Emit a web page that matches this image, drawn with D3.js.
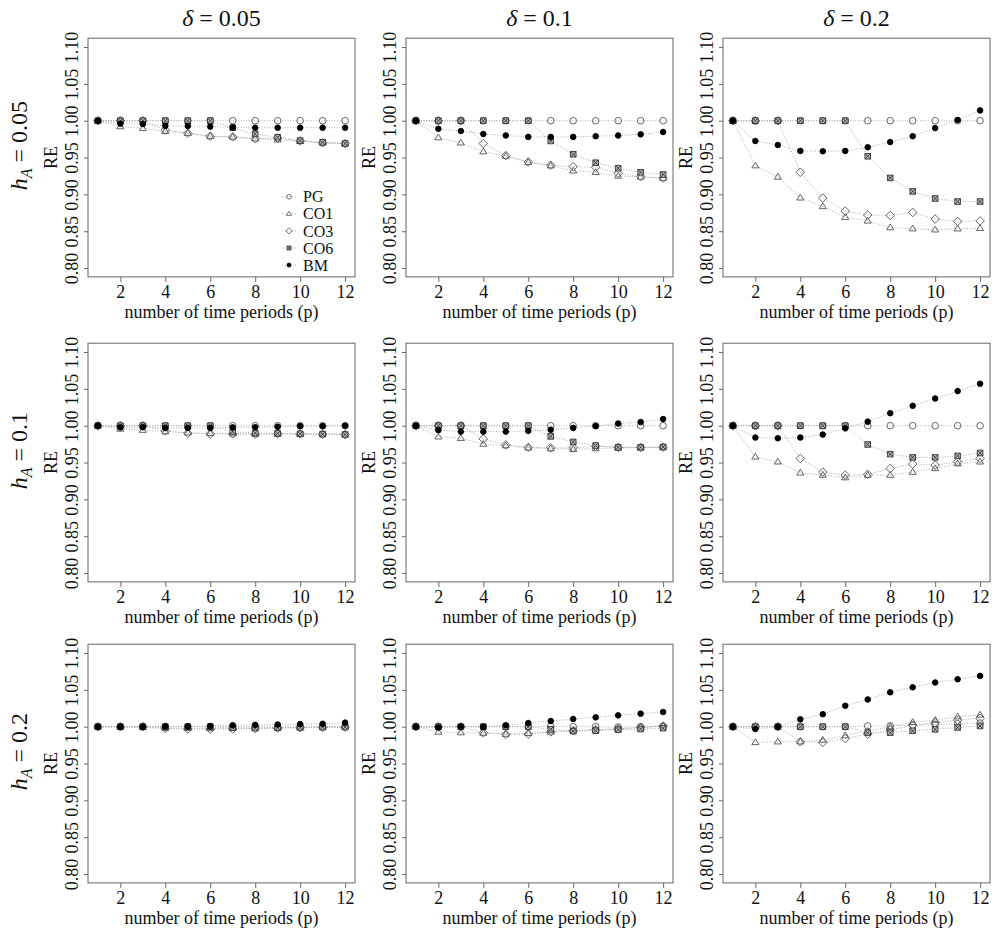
<!DOCTYPE html>
<html>
<head>
<meta charset="utf-8">
<script src="https://cdn.jsdelivr.net/npm/d3@7"></script>
<style>
    body { margin: 0; background: #fff; }
    svg { display: block; font-family: "Liberation Serif", "DejaVu Serif", serif; }
</style>
</head>
<body>
<div id="chart"></div>
<script>
const periods = d3.range(1, 13);
const seriesNames = ["PG", "CO1", "CO3", "CO6", "BM"];
const deltaLabels = ["0.05", "0.1", "0.2"];
const hLabels = ["0.05", "0.1", "0.2"];
const yTicks = [0.80, 0.85, 0.90, 0.95, 1.00, 1.05, 1.10];
const xTicks = [2, 4, 6, 8, 10, 12];

// each panel: rows are PG, CO1, CO3, CO6, BM (p = 1..12)
const h005_d005 = [
    [1, 1, 1, 1, 1, 1, 1, 1, 1, 1, 1, 1],
    [1, 0.992, 0.9896, 0.9856, 0.983, 0.979, 0.978, 0.9756, 0.974, 0.972, 0.970, 0.969],
    [1, 1, 1, 0.9874, 0.983, 0.979, 0.978, 0.9756, 0.9765, 0.9725, 0.970, 0.969],
    [1, 1, 1, 1, 1, 1, 0.9905, 0.982, 0.9775, 0.973, 0.9707, 0.969],
    [1, 0.996, 0.9955, 0.993, 0.9928, 0.992, 0.991, 0.9905, 0.9905, 0.9905, 0.9905, 0.9905]
];
const h005_d01 = [
    [1, 1, 1, 1, 1, 1, 1, 1, 1, 1, 1, 1],
    [1, 0.977, 0.970, 0.958, 0.952, 0.9436, 0.939, 0.932, 0.930, 0.925, 0.9237, 0.922],
    [1, 1, 1, 0.969, 0.9527, 0.944, 0.9395, 0.9377, 0.9368, 0.9287, 0.9242, 0.922],
    [1, 1, 1, 1, 1, 1, 0.9725, 0.9544, 0.943, 0.9355, 0.930, 0.927],
    [1, 0.989, 0.986, 0.982, 0.980, 0.978, 0.978, 0.978, 0.979, 0.980, 0.9815, 0.9847]
];
const h005_d02 = [
    [1, 1, 1, 1, 1, 1, 1, 1, 1, 1, 1, 1],
    [1, 0.939, 0.9236, 0.8953, 0.8836, 0.869, 0.864, 0.855, 0.8534, 0.852, 0.8534, 0.854],
    [1, 1, 1, 0.930, 0.895, 0.8773, 0.872, 0.8714, 0.8755, 0.8665, 0.8633, 0.864],
    [1, 1, 1, 1, 1, 1, 0.9517, 0.9224, 0.904, 0.8944, 0.8903, 0.8903],
    [1, 0.9725, 0.967, 0.959, 0.9585, 0.959, 0.964, 0.971, 0.979, 0.990, 1.001, 1.014]
];
const h01_d005 = [
    [1, 1, 1, 1, 1, 1, 1, 1, 1, 1, 1, 1],
    [1, 0.9955, 0.994, 0.992, 0.9905, 0.9896, 0.989, 0.9887, 0.9887, 0.9887, 0.9887, 0.9887],
    [1, 1, 1, 0.993, 0.990, 0.989, 0.989, 0.9885, 0.9893, 0.989, 0.9885, 0.988],
    [1, 1, 1, 1, 1, 1, 0.992, 0.990, 0.9896, 0.989, 0.9885, 0.988],
    [1, 0.9977, 0.998, 0.997, 0.997, 0.997, 0.9977, 0.998, 0.9986, 0.9995, 0.9995, 1.000]
];
const h01_d01 = [
    [1, 1, 1, 1, 1, 1, 1, 1, 1, 1, 1, 1],
    [1, 0.985, 0.983, 0.975, 0.973, 0.970, 0.969, 0.968, 0.969, 0.970, 0.970, 0.9706],
    [1, 1, 1, 0.982, 0.974, 0.9706, 0.970, 0.970, 0.972, 0.9706, 0.9706, 0.971],
    [1, 1, 1, 1, 1, 1, 0.9855, 0.978, 0.973, 0.9706, 0.9706, 0.971],
    [1, 0.994, 0.992, 0.992, 0.992, 0.993, 0.9945, 0.997, 0.9995, 1.003, 1.005, 1.009]
];
const h01_d02 = [
    [1, 1, 1, 1, 1, 1, 1, 1, 1, 1, 1, 1],
    [1, 0.9577, 0.951, 0.936, 0.933, 0.9295, 0.933, 0.933, 0.937, 0.942, 0.9486, 0.951],
    [1, 1, 1, 0.9555, 0.937, 0.933, 0.934, 0.942, 0.948, 0.9464, 0.951, 0.9555],
    [1, 1, 1, 1, 1, 1, 0.9745, 0.9614, 0.957, 0.957, 0.959, 0.963],
    [1, 0.984, 0.983, 0.984, 0.988, 0.9964, 1.0055, 1.017, 1.027, 1.037, 1.047, 1.057]
];
const h02_d005 = [
    [1, 1, 1, 1, 1, 1, 1, 1, 1, 1, 1, 1],
    [1, 0.9995, 0.999, 0.998, 0.9977, 0.9977, 0.998, 0.998, 0.9986, 0.999, 0.9995, 1.000],
    [1, 1, 1, 0.9977, 0.9968, 0.9968, 0.997, 0.9977, 0.998, 0.9986, 0.999, 0.9995],
    [1, 1, 1, 1, 1, 1, 0.9986, 0.998, 0.9986, 0.999, 0.9995, 0.9995],
    [1, 1, 1, 1.0005, 1.0005, 1.001, 1.002, 1.0025, 1.003, 1.0036, 1.004, 1.0055]
];
const h02_d01 = [
    [1, 1, 1, 1, 1, 1, 1.0005, 1.0, 1.0, 0.9995, 1.0, 1.0005],
    [1, 0.9928, 0.992, 0.9914, 0.990, 0.991, 0.993, 0.9946, 0.9955, 0.997, 0.999, 1.001],
    [1, 1, 1, 0.9918, 0.9896, 0.990, 0.993, 0.9946, 0.996, 0.997, 0.999, 1.001],
    [1, 1, 1, 1, 1, 1, 0.9964, 0.994, 0.9946, 0.996, 0.9968, 0.998],
    [1, 0.999, 1.0, 1.0, 1.002, 1.005, 1.0077, 1.0104, 1.0127, 1.0154, 1.0177, 1.020]
];
const h02_d02 = [
    [1, 1, 1, 1, 1, 1, 1.001, 1.001, 1.002, 1.003, 1.004, 1.005],
    [1, 0.9787, 0.9796, 0.9796, 0.982, 0.988, 0.994, 1.000, 1.006, 1.009, 1.0136, 1.016],
    [1, 1, 1, 0.9796, 0.9787, 0.984, 0.990, 0.9955, 1.002, 1.0054, 1.009, 1.0113],
    [1, 1, 1, 1, 1, 1, 0.992, 0.992, 0.9945, 0.9964, 0.999, 1.001],
    [1, 0.9968, 1.0, 1.01, 1.017, 1.0285, 1.037, 1.0467, 1.0535, 1.060, 1.0645, 1.069]
];

const panelData = [
    [h005_d005, h005_d01, h005_d02],
    [h01_d005, h01_d01, h01_d02],
    [h02_d005, h02_d01, h02_d02]
];

const colLeft = [88, 406, 723];
const rowTop = [38.2, 343.2, 644.2];
const panelW = 267;
const panelH = 238.7;

// marker shapes, r = half size in px
function markerPath(name, r) {
    const p = d3.path();
    if (name === "PG" || name === "BM") {
        p.arc(0, 0, r, 0, 2 * Math.PI);
    } else if (name === "CO1") {
        const h = r * 1.75;
        p.moveTo(0, -h * 0.62);
        p.lineTo(r * 1.08, h * 0.38);
        p.lineTo(-r * 1.08, h * 0.38);
        p.closePath();
    } else if (name === "CO3") {
        const d = r * 1.3;
        p.moveTo(0, -d); p.lineTo(d, 0); p.lineTo(0, d); p.lineTo(-d, 0); p.closePath();
    } else if (name === "CO6") {
        const s = r * 0.85;
        p.rect(-s, -s, 2 * s, 2 * s);
        p.moveTo(-s, -s); p.lineTo(s, s);
        p.moveTo(s, -s); p.lineTo(-s, s);
    }
    return p.toString();
}

const markerStyle = {
    PG: { fill: "none", stroke: "#555" },
    CO1: { fill: "none", stroke: "#555" },
    CO3: { fill: "none", stroke: "#555" },
    CO6: { fill: "#bbb", stroke: "#333" },
    BM: { fill: "#000", stroke: "#000" }
};

class PanelChart {
    constructor(svg, row, col, data) {
        this.g = svg.append("g")
            .attr("transform", `translate(${colLeft[col]},${rowTop[row]})`);
        this.data = data;
        this.row = row;
        this.col = col;
        this.x = d3.scaleLinear().domain([0.56, 12.44]).range([0, panelW]);
        this.y = d3.scaleLinear().domain([0.788, 1.112]).range([panelH, 0]);
        this.renderAxes();
        this.renderSeries();
    }

    renderAxes() {
        const xAxis = this.g.append("g")
            .attr("class", "x-axis")
            .attr("transform", `translate(0,${panelH})`)
            .call(d3.axisBottom(this.x).tickValues(xTicks).tickSize(5).tickPadding(3).tickFormat(d3.format("d")));
        xAxis.select(".domain").remove();
        xAxis.selectAll("line").attr("stroke", "#666");
        xAxis.selectAll("text").attr("font-size", 18).attr("fill", "#111")
            .attr("font-family", "Liberation Serif");

        const yAxis = this.g.append("g")
            .attr("class", "y-axis")
            .call(d3.axisLeft(this.y).tickValues(yTicks).tickSize(4).tickFormat(d3.format(".2f")));
        yAxis.select(".domain").remove();
        yAxis.selectAll("line").attr("stroke", "#666");
        yAxis.selectAll("text")
            .attr("font-size", 18).attr("fill", "#111")
            .attr("font-family", "Liberation Serif")
            .attr("text-anchor", "middle")
            .attr("dy", null)
            .attr("x", null)
            .attr("transform", "translate(-10,0) rotate(-90)");

        this.g.append("rect")
            .attr("width", panelW)
            .attr("height", panelH)
            .attr("fill", "none")
            .attr("stroke", "#666")
            .attr("stroke-width", 1);

        this.g.append("text")
            .attr("x", panelW / 2)
            .attr("y", panelH + 41)
            .attr("text-anchor", "middle")
            .attr("font-size", 18)
            .attr("fill", "#111")
            .text("number of time periods (p)");

        this.g.append("text")
            .attr("transform", `translate(-31,${this.y(0.95)}) rotate(-90)`)
            .attr("text-anchor", "middle")
            .attr("font-size", 18)
            .attr("fill", "#111")
            .text("RE");
    }

    renderSeries() {
        const line = d3.line()
            .x((d, i) => this.x(periods[i]))
            .y(d => this.y(d));

        this.data.forEach(values => {
            this.g.append("path")
                .datum(values)
                .attr("fill", "none")
                .attr("stroke", "#b0b0b0")
                .attr("stroke-width", 1)
                .attr("stroke-dasharray", "1,1.6")
                .attr("d", line);
        });

        this.data.forEach((values, s) => {
            const name = seriesNames[s];
            const r = name === "BM" ? 2.8 : 3.3;
            this.g.selectAll(null)
                .data(values)
                .enter()
                .append("path")
                .attr("transform", (d, i) => `translate(${this.x(periods[i])},${this.y(d)})`)
                .attr("d", markerPath(name, r))
                .attr("fill", markerStyle[name].fill)
                .attr("stroke", markerStyle[name].stroke)
                .attr("stroke-width", 0.9);
        });
    }

    renderLegend() {
        const lg = this.g.append("g").attr("transform", `translate(194,${196.7 - rowTop[0]})`);
        seriesNames.forEach((name, i) => {
            const item = lg.append("g").attr("transform", `translate(0,${i * 17.1})`);
            item.append("line")
                .attr("x1", 0).attr("x2", 14)
                .attr("stroke", "#b0b0b0")
                .attr("stroke-dasharray", "1,1.6");
            item.append("path")
                .attr("transform", "translate(7,0)")
                .attr("d", markerPath(name, name === "BM" ? 2 : 2.4))
                .attr("fill", markerStyle[name].fill)
                .attr("stroke", markerStyle[name].stroke)
                .attr("stroke-width", 0.8);
            item.append("text")
                .attr("x", 21)
                .attr("dy", "0.35em")
                .attr("font-size", 16)
                .attr("fill", "#111")
                .text(name);
        });
    }
}

const svg = d3.select("#chart")
    .append("svg")
    .attr("width", 997)
    .attr("height", 934);

svg.append("rect").attr("width", 997).attr("height", 934).attr("fill", "#fff");

const charts = [];
panelData.forEach((rowData, r) => {
    rowData.forEach((data, c) => {
        charts.push(new PanelChart(svg, r, c, data));
    });
});
charts[0].renderLegend();

// column titles: delta = ...
deltaLabels.forEach((lab, c) => {
    const t = svg.append("text")
        .attr("x", colLeft[c] + panelW / 2)
        .attr("y", 26)
        .attr("text-anchor", "middle")
        .attr("font-size", 24)
        .attr("fill", "#111");
    t.append("tspan").attr("font-style", "italic").text("δ");
    t.append("tspan").text(" = " + lab);
});

// row titles: h_A = ...
hLabels.forEach((lab, r) => {
    const t = svg.append("text")
        .attr("transform", `translate(27,${rowTop[r] + panelH / 2 - 12}) rotate(-90)`)
        .attr("text-anchor", "middle")
        .attr("font-size", 24)
        .attr("fill", "#111");
    t.append("tspan").attr("font-style", "italic").text("h");
    t.append("tspan").attr("font-style", "italic").attr("font-size", 16).attr("dy", 5).text("A");
    t.append("tspan").attr("dy", -5).text(" = " + lab);
});
</script>
</body>
</html>
